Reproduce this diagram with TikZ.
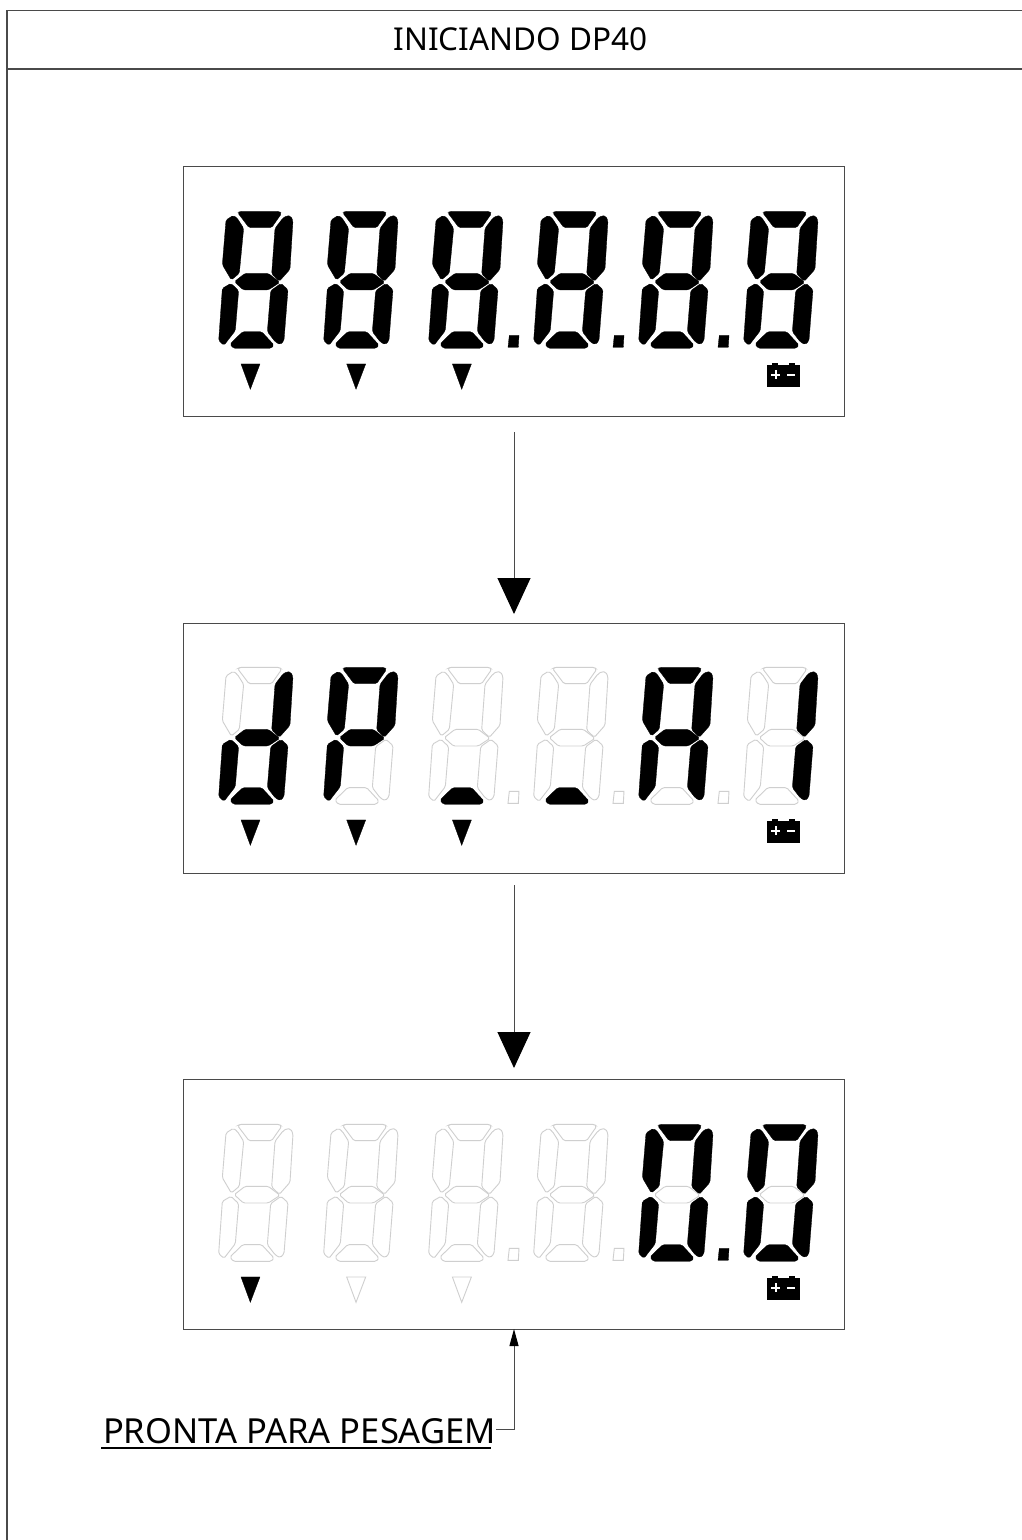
\documentclass[tikz,border=0pt]{standalone}
\usepackage{fontspec}
\setmainfont{Noto Sans}
\usetikzlibrary{arrows.meta}
\definecolor{lcdgray}{HTML}{CFCFCF}
\definecolor{framegray}{HTML}{4A4A4A}
\tikzset{
  lcdon/.style={fill=black,draw=black,line width=0.3pt,rounded corners=1.6pt},
  lcdoff/.style={fill=white,draw=lcdgray,line width=0.9pt,rounded corners=1.6pt},
  dotoff/.style={fill=white,draw=lcdgray,line width=0.9pt},
  doton/.style={fill=black,draw=black,line width=0.3pt},
  markoff/.style={fill=white,draw=lcdgray,line width=0.9pt},
  markon/.style={fill=black,draw=black,line width=0.3pt},
  framerule/.style={draw=framegray,line width=1.2pt},
  panel/.style={draw=framegray,line width=0.9pt,minimum width=661pt,minimum height=250pt,inner sep=0pt,outer sep=0pt},
  flowarrow/.style={draw=framegray,line width=1pt,-{Triangle[width=33pt,length=36pt,color=black]},shorten >=0pt},
  notearrow/.style={draw=framegray,line width=1pt,-{Triangle[width=9pt,length=17pt,color=black]}},
  titletext/.style={font=\fontsize{31.5}{36}\selectfont,text=black,inner sep=0pt},
  notetext/.style={font=\fontsize{34.5}{40}\selectfont,text=black,inner sep=0pt,outer sep=0pt,anchor=base west},
}
% origin, then styles of the segments A B C D E F G
\newcommand{\lcddigit}[9]{%
  \begin{scope}[shift={(#1,#2)},x=0.3333pt,y=-0.3333pt]
    \path[#3] (113,68)--(120,64)--(238,64)--(245,70)--(215,113)--(147,113)--cycle;
    \path[#4] (248,85)--(260,77)--(272,78)--(279,92)--(270,238)--(238,274)--(215,252)--(225,115)--cycle;
    \path[#5] (243,280)--(264,299)--(252,452)--(241,464)--(226,456)--(202,425)--(212,302)--cycle;
    \path[#6] (90,462)--(128,425)--(185,425)--(222,465)--(214,475)--(100,475)--cycle;
    \path[#7] (67,295)--(93,280)--(116,302)--(106,422)--(72,466)--(56,452)--cycle;
    \path[#8] (100,76)--(112,85)--(131,115)--(118,250)--(94,270)--(67,224)--(78,90)--cycle;
    \path[#9] (103,275)--(135,250)--(205,250)--(240,277)--(205,300)--(130,300)--cycle;
  \end{scope}}
\newcommand{\lcddot}[3]{%
  \begin{scope}[shift={(#1,#2)},x=0.3333pt,y=-0.3333pt]
    \path[#3] (294,472)--(298,436)--(327,436)--(325,472)--cycle;
  \end{scope}}
\newcommand{\lcdmark}[3]{%
  \begin{scope}[shift={(#1,#2)},x=0.3333pt,y=-0.3333pt]
    \path[#3] (123,522)--(180,522)--(151,598)--cycle;
  \end{scope}}
\newcommand{\lcdbattery}[2]{%
  \begin{scope}[shift={(#1,#2)},x=0.3333pt,y=-0.3333pt]
    \fill[black] (126,526) rectangle (224,591);
    \fill[black] (141,518) rectangle (159,526);
    \fill[black] (191,518) rectangle (209,526);
    \fill[white] (139,551) rectangle (165,558);
    \fill[white] (148.5,541) rectangle (155.5,568);
    \fill[white] (187,551) rectangle (209,557);
  \end{scope}}
\begin{document}
\begin{tikzpicture}[x=1pt,y=-1pt]
\useasboundingbox (0,0) rectangle (1022,1540);
\fill[white] (0,0) rectangle (1022,1540);
% frame
\coordinate (frameTL) at (7,10.5);
\coordinate (frameTR) at (1022,10.5);
\coordinate (frameBL) at (7,1540);
\coordinate (ruleL) at (7,69);
\coordinate (ruleR) at (1022,69);
\draw[framerule] (frameTR) -- (frameTL) -- (frameBL);
\draw[framerule] (ruleL) -- (ruleR);
\node[titletext] (title) at (520.5,39.5) {INICIANDO DP40};
% panels
\node[panel] (panelA) at (513.5,291) {};
\node[panel] (panelB) at (513.5,748) {};
\node[panel] (panelC) at (513.5,1204) {};
% display 1
\foreach \n in {0,...,5}{\lcddigit{200+105*\n}{190}{lcdon}{lcdon}{lcdon}{lcdon}{lcdon}{lcdon}{lcdon}}
\foreach \n in {2,3,4}{\lcddot{200+105*\n}{190}{doton}}
\foreach \n in {0,1,2}{\lcdmark{200+105.7*\n}{190}{markon}}
\lcdbattery{725}{190}
% display 2
\lcddigit{200}{646}{lcdoff}{lcdon}{lcdon}{lcdon}{lcdon}{lcdoff}{lcdon}
\lcddigit{305}{646}{lcdon}{lcdon}{lcdoff}{lcdoff}{lcdon}{lcdon}{lcdon}
\lcddigit{410}{646}{lcdoff}{lcdoff}{lcdoff}{lcdon}{lcdoff}{lcdoff}{lcdoff}
\lcddigit{515}{646}{lcdoff}{lcdoff}{lcdoff}{lcdon}{lcdoff}{lcdoff}{lcdoff}
\lcddigit{620}{646}{lcdon}{lcdon}{lcdon}{lcdoff}{lcdon}{lcdon}{lcdon}
\lcddigit{725}{646}{lcdoff}{lcdon}{lcdon}{lcdoff}{lcdoff}{lcdoff}{lcdoff}
\foreach \n in {2,3,4}{\lcddot{200+105*\n}{646}{dotoff}}
\foreach \n in {0,1,2}{\lcdmark{200+105.7*\n}{646}{markon}}
\lcdbattery{725}{646}
% display 3
\foreach \n in {0,...,3}{\lcddigit{200+105*\n}{1103}{lcdoff}{lcdoff}{lcdoff}{lcdoff}{lcdoff}{lcdoff}{lcdoff}}
\foreach \n in {4,5}{\lcddigit{200+105*\n}{1103}{lcdon}{lcdon}{lcdon}{lcdon}{lcdon}{lcdon}{lcdoff}}
\lcddot{410}{1103}{dotoff}
\lcddot{515}{1103}{dotoff}
\lcddot{620}{1103}{doton}
\lcdmark{200}{1103}{markon}
\lcdmark{305.7}{1103}{markoff}
\lcdmark{411.4}{1103}{markoff}
\lcdbattery{725}{1103}
% connectors
\draw[flowarrow] ([xshift=0.5pt,yshift=-16pt]panelA.south) -- ([xshift=0.5pt,yshift=9pt]panelB.north);
\draw[flowarrow] ([xshift=0.5pt,yshift=-12pt]panelB.south) -- ([xshift=0.5pt,yshift=11pt]panelC.north);
% note
\node[notetext] (note) at (103,1443) {PRONTA PARA PESAGEM};
\coordinate (noteEnd) at (496,1429.5);
\coordinate (noteCorner) at (514,1429.5);
\draw[notearrow] (noteEnd) -- (noteCorner) -- (noteCorner |- panelC.south);
\coordinate (ulL) at (101,1448);
\coordinate (ulR) at (491,1448);
\draw[black,line width=1.8pt] (ulL) -- (ulR);
\end{tikzpicture}
\end{document}
